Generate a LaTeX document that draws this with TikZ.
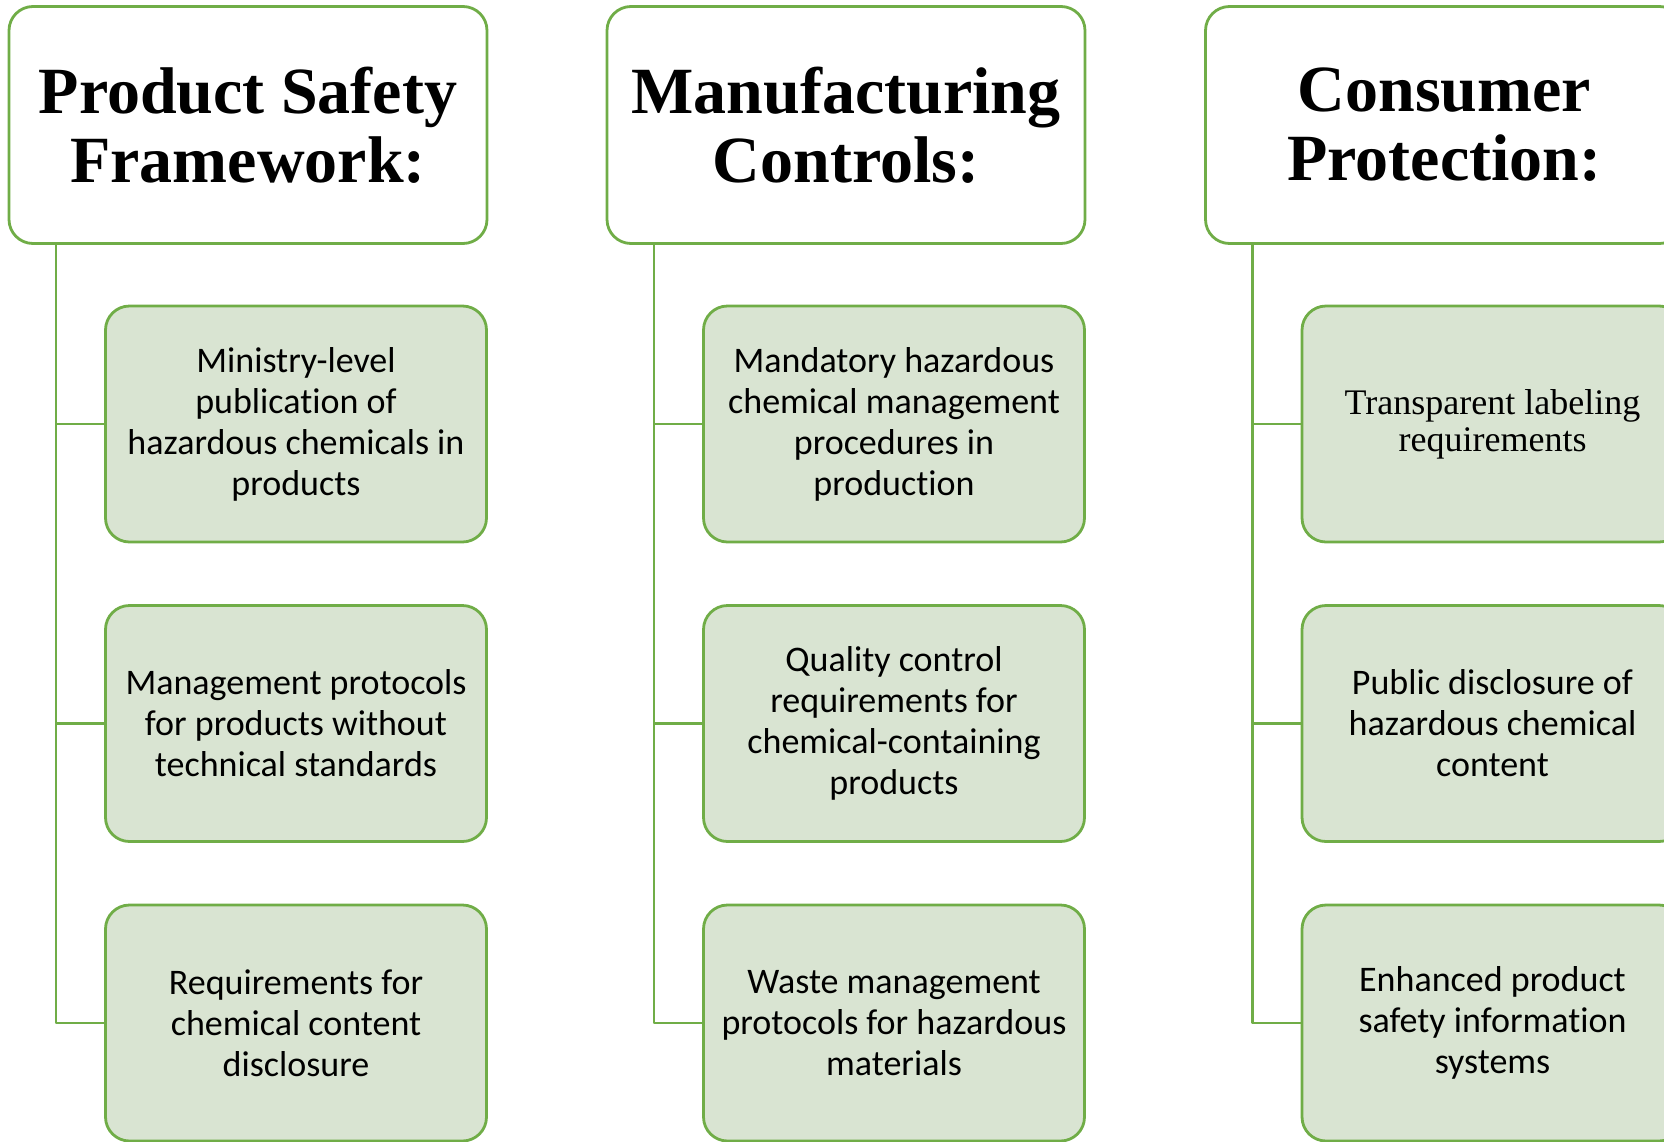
\documentclass[tikz,border=0pt]{standalone}
\usepackage{fontspec}
\setmainfont{Liberation Serif}
\newfontfamily\bodyfont{Carlito}[Ligatures=NoCommon]
\usetikzlibrary{positioning}
\definecolor{leaf}{HTML}{70AD47}
\definecolor{pale}{HTML}{D9E4D2}

\begin{document}
\begin{tikzpicture}[x=0.5pt, y=-0.5pt, line join=round,
	head/.style={draw=leaf, line width=1.4pt, fill=white, rounded corners=12pt,
		minimum width=239pt, minimum height=118.5pt, align=center,
		font=\fontsize{33}{34.5}\selectfont\bfseries},
	point/.style={draw=leaf, line width=1.4pt, fill=pale, rounded corners=12pt,
		minimum width=190.5pt, minimum height=118pt, align=center, inner sep=0pt,
		font=\bodyfont\fontsize{18}{20.5}\selectfont},
	link/.style={draw=leaf, line width=1.2pt}]
		\def\colB{598}\def\colC{1196.5}
		\useasboundingbox (0,0) rectangle (1664,1141);
		\clip (0,0) rectangle (1664,1141);
		
		% Product Safety Framework
		\node[head] (psf) at (248,125) {Product Safety\\Framework:};
		\node[point] (psf1) at (296,424) {Ministry-level\\publication of\\hazardous chemicals in\\products};
		\node[point] (psf2) at (296,723.5) {Management protocols\\for products without\\technical standards};
		\node[point] (psf3) at (296,1023) {Requirements for\\chemical content\\disclosure};
		\coordinate (psft) at ([xshift=24.25pt]psf.south west);
		\draw[link] (psft) |- (psf3.west)
		(psft |- psf1.west) -- (psf1.west)
		(psft |- psf2.west) -- (psf2.west);
		
		% Manufacturing Controls
		\node[head] (mfc) at (248+\colB,125) {Manufacturing\\Controls:};
		\node[point] (mfc1) at (296+\colB,424) {Mandatory hazardous\\chemical management\\procedures in\\production};
		\node[point] (mfc2) at (296+\colB,723.5) {Quality control\\requirements for\\chemical-containing\\products};
		\node[point] (mfc3) at (296+\colB,1023) {Waste management\\protocols for hazardous\\materials};
		\coordinate (mfct) at ([xshift=24.25pt]mfc.south west);
		\draw[link] (mfct) |- (mfc3.west)
		(mfct |- mfc1.west) -- (mfc1.west)
		(mfct |- mfc2.west) -- (mfc2.west);
		
		% Consumer Protection
		\node[head] (cpr) at (248+\colC,125) {Consumer\\Protection:};
		\node[point, font=\fontsize{18}{18.5}\selectfont] (cpr1) at (296+\colC,424) {Transparent labeling\\requirements};
		\node[point] (cpr2) at (296+\colC,723.5) {Public disclosure of\\hazardous chemical\\content};
		\node[point] (cpr3) at (296+\colC,1023) {Enhanced product\\safety information\\systems};
		\coordinate (cprt) at ([xshift=24.25pt]cpr.south west);
		\draw[link] (cprt) |- (cpr3.west)
		(cprt |- cpr1.west) -- (cpr1.west)
		(cprt |- cpr2.west) -- (cpr2.west);
	\end{tikzpicture}
\end{document}
